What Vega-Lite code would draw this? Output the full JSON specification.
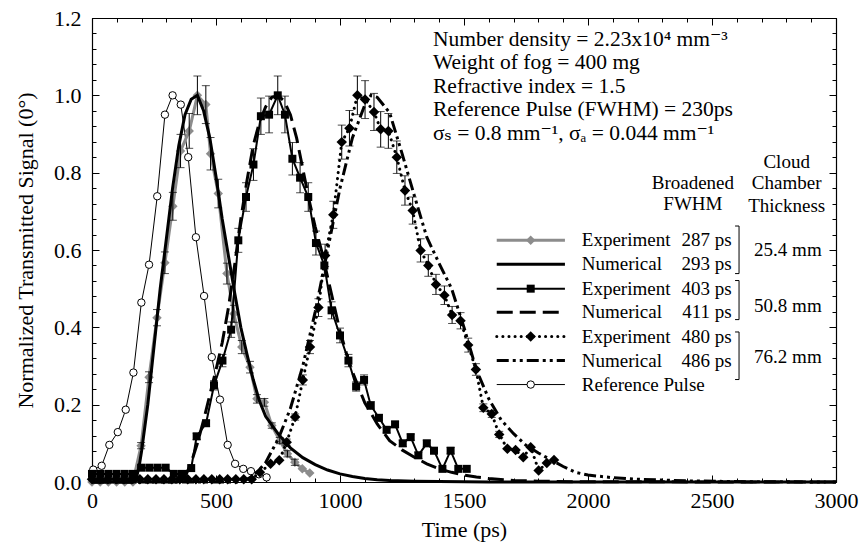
{
"$schema": "https://vega.github.io/schema/vega-lite/v6.json",
"width": 744, "height": 464,
"autosize": {"type": "none"},
"padding": {"left": 92, "top": 18, "right": 25, "bottom": 62},
"config": {
  "font": "Liberation Serif",
  "view": {"stroke": null},
  "axis": {"labelFont": "Liberation Serif", "labelFontSize": 22, "labelColor": "black", "titleFont": "Liberation Serif", "titleFontSize": 22, "titleFontWeight": "normal", "titleColor": "black", "domainColor": "black", "domainWidth": 1.2, "tickColor": "black", "tickWidth": 1, "grid": false},
  "text": {"font": "Liberation Serif", "fontSize": 22, "color": "black"}
},
"datasets": {
"pts": [
{"s":"ref","x":5,"y":0.032},{"s":"ref","x":39,"y":0.042},{"s":"ref","x":70,"y":0.096},{"s":"ref","x":104,"y":0.129},{"s":"ref","x":136,"y":0.187},{"s":"ref","x":167,"y":0.283},{"s":"ref","x":199,"y":0.464},{"s":"ref","x":230,"y":0.562},{"s":"ref","x":263,"y":0.739},{"s":"ref","x":294,"y":0.95},{"s":"ref","x":325,"y":1.0},{"s":"ref","x":358,"y":0.976},{"s":"ref","x":388,"y":0.84},{"s":"ref","x":419,"y":0.633},{"s":"ref","x":452,"y":0.481},{"s":"ref","x":483,"y":0.323},{"s":"ref","x":516,"y":0.213},{"s":"ref","x":547,"y":0.096},{"s":"ref","x":577,"y":0.047},{"s":"ref","x":610,"y":0.034},{"s":"ref","x":641,"y":0.028},{"s":"ref","x":673,"y":0.02},{"s":"ref","x":704,"y":0.012},
{"s":"L_ref","x":1632,"y":0.252},{"s":"L_ref","x":1907,"y":0.252},{"s":"M_ref","x":1769,"y":0.252},

{"s":"exp1","x":0,"y":0},{"s":"exp1","x":33,"y":0},{"s":"exp1","x":66,"y":0},{"s":"exp1","x":99,"y":0},{"s":"exp1","x":132,"y":0},{"s":"exp1","x":165,"y":0},
{"s":"exp1","x":198,"y":0.094,"lo":0.086,"hi":0.102},{"s":"exp1","x":230,"y":0.271,"lo":0.257,"hi":0.285},{"s":"exp1","x":262,"y":0.425,"lo":0.404,"hi":0.446},{"s":"exp1","x":294,"y":0.567,"lo":0.539,"hi":0.595},{"s":"exp1","x":326,"y":0.713,"lo":0.677,"hi":0.749},{"s":"exp1","x":357,"y":0.856,"lo":0.813,"hi":0.899},{"s":"exp1","x":392,"y":0.908,"lo":0.863,"hi":0.953},{"s":"exp1","x":425,"y":1.0,"lo":0.95,"hi":1.05},{"s":"exp1","x":459,"y":0.976,"lo":0.927,"hi":1.025},{"s":"exp1","x":478,"y":0.849,"lo":0.807,"hi":0.891},{"s":"exp1","x":509,"y":0.746,"lo":0.709,"hi":0.783},{"s":"exp1","x":544,"y":0.539,"lo":0.512,"hi":0.566},{"s":"exp1","x":572,"y":0.435,"lo":0.413,"hi":0.457},{"s":"exp1","x":604,"y":0.349,"lo":0.332,"hi":0.366},{"s":"exp1","x":637,"y":0.297,"lo":0.282,"hi":0.312},{"s":"exp1","x":665,"y":0.215,"lo":0.204,"hi":0.226},{"s":"exp1","x":695,"y":0.206,"lo":0.196,"hi":0.216},{"s":"exp1","x":725,"y":0.146,"lo":0.139,"hi":0.153},{"s":"exp1","x":757,"y":0.107,"lo":0.099,"hi":0.115},{"s":"exp1","x":788,"y":0.073,"lo":0.065,"hi":0.081},{"s":"exp1","x":818,"y":0.051,"lo":0.043,"hi":0.059},{"s":"exp1","x":848,"y":0.034},{"s":"exp1","x":878,"y":0.023},
{"s":"L_exp1","x":1632,"y":0.625},{"s":"L_exp1","x":1907,"y":0.625},{"s":"M_exp1","x":1769,"y":0.625},

{"s":"num1","x":0,"y":0},{"s":"num1","x":175,"y":0},{"s":"num1","x":190,"y":0.04},{"s":"num1","x":200,"y":0.08},{"s":"num1","x":225,"y":0.2},{"s":"num1","x":250,"y":0.35},{"s":"num1","x":275,"y":0.5},{"s":"num1","x":300,"y":0.63},{"s":"num1","x":325,"y":0.76},{"s":"num1","x":350,"y":0.87},{"s":"num1","x":375,"y":0.95},{"s":"num1","x":400,"y":0.99},{"s":"num1","x":425,"y":1.0},{"s":"num1","x":450,"y":0.96},{"s":"num1","x":475,"y":0.89},{"s":"num1","x":500,"y":0.79},{"s":"num1","x":525,"y":0.68},{"s":"num1","x":550,"y":0.585},{"s":"num1","x":575,"y":0.49},{"s":"num1","x":600,"y":0.4},{"s":"num1","x":625,"y":0.33},{"s":"num1","x":650,"y":0.265},{"s":"num1","x":675,"y":0.21},{"s":"num1","x":700,"y":0.17},{"s":"num1","x":750,"y":0.125},{"s":"num1","x":800,"y":0.088},{"s":"num1","x":850,"y":0.063},{"s":"num1","x":900,"y":0.045},{"s":"num1","x":950,"y":0.031},{"s":"num1","x":1000,"y":0.021},{"s":"num1","x":1050,"y":0.014},{"s":"num1","x":1100,"y":0.009},{"s":"num1","x":1150,"y":0.006},{"s":"num1","x":1200,"y":0.004},{"s":"num1","x":1300,"y":0.002},{"s":"num1","x":1400,"y":0.001},{"s":"num1","x":1600,"y":0},{"s":"num1","x":3000,"y":0},
{"s":"L_num1","x":1632,"y":0.563},{"s":"L_num1","x":1907,"y":0.563},

{"s":"exp2","x":0,"y":0.021},{"s":"exp2","x":33,"y":0.021},{"s":"exp2","x":66,"y":0.021},{"s":"exp2","x":99,"y":0.021},{"s":"exp2","x":132,"y":0.021},{"s":"exp2","x":165,"y":0.021},{"s":"exp2","x":198,"y":0.037},{"s":"exp2","x":231,"y":0.037},{"s":"exp2","x":264,"y":0.037},{"s":"exp2","x":297,"y":0.037},{"s":"exp2","x":330,"y":0.021},{"s":"exp2","x":363,"y":0.021},{"s":"exp2","x":400,"y":0.036},
{"s":"exp2","x":422,"y":0.118,"lo":0.11,"hi":0.126},{"s":"exp2","x":460,"y":0.152,"lo":0.144,"hi":0.16},{"s":"exp2","x":492,"y":0.25,"lo":0.238,"hi":0.262},{"s":"exp2","x":526,"y":0.314,"lo":0.298,"hi":0.33},{"s":"exp2","x":561,"y":0.394,"lo":0.374,"hi":0.414},{"s":"exp2","x":590,"y":0.625,"lo":0.594,"hi":0.656},{"s":"exp2","x":621,"y":0.737,"lo":0.7,"hi":0.774},{"s":"exp2","x":651,"y":0.821,"lo":0.78,"hi":0.862},{"s":"exp2","x":681,"y":0.946,"lo":0.899,"hi":0.993},{"s":"exp2","x":714,"y":0.95,"lo":0.903,"hi":0.998},{"s":"exp2","x":749,"y":1.0,"lo":0.95,"hi":1.05},{"s":"exp2","x":778,"y":0.95,"lo":0.903,"hi":0.998},{"s":"exp2","x":808,"y":0.836,"lo":0.794,"hi":0.878},{"s":"exp2","x":839,"y":0.787,"lo":0.748,"hi":0.826},{"s":"exp2","x":872,"y":0.737,"lo":0.7,"hi":0.774},{"s":"exp2","x":903,"y":0.618,"lo":0.587,"hi":0.649},{"s":"exp2","x":937,"y":0.56,"lo":0.532,"hi":0.588},{"s":"exp2","x":966,"y":0.444,"lo":0.422,"hi":0.466},{"s":"exp2","x":1000,"y":0.379,"lo":0.36,"hi":0.398},{"s":"exp2","x":1034,"y":0.314,"lo":0.298,"hi":0.33},{"s":"exp2","x":1065,"y":0.247,"lo":0.235,"hi":0.259},{"s":"exp2","x":1097,"y":0.264,"lo":0.251,"hi":0.277},{"s":"exp2","x":1124,"y":0.198,"lo":0.188,"hi":0.208},{"s":"exp2","x":1157,"y":0.166,"lo":0.158,"hi":0.174},{"s":"exp2","x":1188,"y":0.135,"lo":0.127,"hi":0.143},{"s":"exp2","x":1222,"y":0.149,"lo":0.141,"hi":0.157},{"s":"exp2","x":1253,"y":0.1,"lo":0.092,"hi":0.108},{"s":"exp2","x":1285,"y":0.116,"lo":0.108,"hi":0.124},{"s":"exp2","x":1316,"y":0.069,"lo":0.061,"hi":0.077},{"s":"exp2","x":1350,"y":0.1,"lo":0.092,"hi":0.108},{"s":"exp2","x":1379,"y":0.081,"lo":0.073,"hi":0.089},{"s":"exp2","x":1413,"y":0.034},{"s":"exp2","x":1446,"y":0.081,"lo":0.073,"hi":0.089},{"s":"exp2","x":1477,"y":0.034},{"s":"exp2","x":1511,"y":0.034},
{"s":"L_exp2","x":1632,"y":0.5},{"s":"L_exp2","x":1907,"y":0.5},{"s":"M_exp2","x":1769,"y":0.5},

{"s":"num2","x":0,"y":0},{"s":"num2","x":350,"y":0},{"s":"num2","x":380,"y":0.02},{"s":"num2","x":400,"y":0.05},{"s":"num2","x":425,"y":0.1},{"s":"num2","x":450,"y":0.16},{"s":"num2","x":475,"y":0.225},{"s":"num2","x":500,"y":0.29},{"s":"num2","x":525,"y":0.36},{"s":"num2","x":550,"y":0.45},{"s":"num2","x":575,"y":0.56},{"s":"num2","x":600,"y":0.68},{"s":"num2","x":625,"y":0.78},{"s":"num2","x":650,"y":0.87},{"s":"num2","x":675,"y":0.93},{"s":"num2","x":700,"y":0.97},{"s":"num2","x":725,"y":0.995},{"s":"num2","x":750,"y":1.0},{"s":"num2","x":775,"y":0.985},{"s":"num2","x":800,"y":0.95},{"s":"num2","x":825,"y":0.89},{"s":"num2","x":850,"y":0.81},{"s":"num2","x":875,"y":0.73},{"s":"num2","x":900,"y":0.66},{"s":"num2","x":925,"y":0.6},{"s":"num2","x":950,"y":0.53},{"s":"num2","x":975,"y":0.46},{"s":"num2","x":1000,"y":0.39},{"s":"num2","x":1025,"y":0.335},{"s":"num2","x":1050,"y":0.285},{"s":"num2","x":1100,"y":0.205},{"s":"num2","x":1150,"y":0.15},{"s":"num2","x":1200,"y":0.107},{"s":"num2","x":1250,"y":0.083},{"s":"num2","x":1300,"y":0.064},{"s":"num2","x":1350,"y":0.047},{"s":"num2","x":1400,"y":0.034},{"s":"num2","x":1450,"y":0.025},{"s":"num2","x":1500,"y":0.018},{"s":"num2","x":1550,"y":0.013},{"s":"num2","x":1600,"y":0.009},{"s":"num2","x":1700,"y":0.004},{"s":"num2","x":1800,"y":0.002},{"s":"num2","x":2000,"y":0.0005},{"s":"num2","x":3000,"y":0},
{"s":"L_num2","x":1632,"y":0.439},{"s":"L_num2","x":1907,"y":0.439},

{"s":"exp3","x":0,"y":0.007},{"s":"exp3","x":32,"y":0.007},{"s":"exp3","x":64,"y":0.007},{"s":"exp3","x":97,"y":0.007},{"s":"exp3","x":129,"y":0.007},{"s":"exp3","x":161,"y":0.007},{"s":"exp3","x":193,"y":0.007},{"s":"exp3","x":225,"y":0.007},{"s":"exp3","x":258,"y":0.007},{"s":"exp3","x":290,"y":0.007},{"s":"exp3","x":322,"y":0.007},{"s":"exp3","x":354,"y":0.007},{"s":"exp3","x":386,"y":0.007},{"s":"exp3","x":419,"y":0.007},{"s":"exp3","x":451,"y":0.007},{"s":"exp3","x":483,"y":0.007},{"s":"exp3","x":515,"y":0.007},{"s":"exp3","x":547,"y":0.007},{"s":"exp3","x":580,"y":0.007},{"s":"exp3","x":612,"y":0.007},{"s":"exp3","x":644,"y":0.007},
{"s":"exp3","x":677,"y":0.025},{"s":"exp3","x":720,"y":0.047},{"s":"exp3","x":755,"y":0.056},{"s":"exp3","x":785,"y":0.103,"lo":0.095,"hi":0.111},{"s":"exp3","x":819,"y":0.168,"lo":0.16,"hi":0.176},{"s":"exp3","x":850,"y":0.264,"lo":0.251,"hi":0.277},{"s":"exp3","x":879,"y":0.349,"lo":0.332,"hi":0.366},{"s":"exp3","x":913,"y":0.451,"lo":0.428,"hi":0.474},{"s":"exp3","x":940,"y":0.586,"lo":0.557,"hi":0.615},{"s":"exp3","x":973,"y":0.691,"lo":0.656,"hi":0.726},{"s":"exp3","x":1007,"y":0.879,"lo":0.835,"hi":0.923},{"s":"exp3","x":1038,"y":0.915,"lo":0.869,"hi":0.961},{"s":"exp3","x":1070,"y":1.0,"lo":0.95,"hi":1.05},{"s":"exp3","x":1101,"y":0.989,"lo":0.94,"hi":1.038},{"s":"exp3","x":1137,"y":0.957,"lo":0.909,"hi":1.005},{"s":"exp3","x":1164,"y":0.912,"lo":0.866,"hi":0.958},{"s":"exp3","x":1195,"y":0.908,"lo":0.863,"hi":0.953},{"s":"exp3","x":1229,"y":0.84,"lo":0.798,"hi":0.882},{"s":"exp3","x":1262,"y":0.754,"lo":0.716,"hi":0.792},{"s":"exp3","x":1293,"y":0.702,"lo":0.667,"hi":0.737},{"s":"exp3","x":1325,"y":0.599,"lo":0.569,"hi":0.629},{"s":"exp3","x":1356,"y":0.56,"lo":0.532,"hi":0.588},{"s":"exp3","x":1387,"y":0.511,"lo":0.485,"hi":0.537},{"s":"exp3","x":1421,"y":0.483,"lo":0.459,"hi":0.507},{"s":"exp3","x":1452,"y":0.432,"lo":0.41,"hi":0.454},{"s":"exp3","x":1486,"y":0.417,"lo":0.396,"hi":0.438},{"s":"exp3","x":1517,"y":0.354,"lo":0.336,"hi":0.372},{"s":"exp3","x":1548,"y":0.291,"lo":0.276,"hi":0.306},{"s":"exp3","x":1578,"y":0.192,"lo":0.182,"hi":0.202},{"s":"exp3","x":1612,"y":0.176,"lo":0.167,"hi":0.185},{"s":"exp3","x":1642,"y":0.123,"lo":0.115,"hi":0.131},{"s":"exp3","x":1675,"y":0.086},{"s":"exp3","x":1708,"y":0.083},{"s":"exp3","x":1739,"y":0.064},{"s":"exp3","x":1769,"y":0.09},{"s":"exp3","x":1801,"y":0.03},{"s":"exp3","x":1834,"y":0.049},{"s":"exp3","x":1863,"y":0.057},
{"s":"L_exp3","x":1632,"y":0.376},{"s":"L_exp3","x":1907,"y":0.376},{"s":"M_exp3","x":1769,"y":0.376},

{"s":"num3","x":0,"y":0},{"s":"num3","x":600,"y":0},{"s":"num3","x":650,"y":0.015},{"s":"num3","x":700,"y":0.05},{"s":"num3","x":750,"y":0.11},{"s":"num3","x":800,"y":0.19},{"s":"num3","x":850,"y":0.3},{"s":"num3","x":900,"y":0.44},{"s":"num3","x":950,"y":0.6},{"s":"num3","x":1000,"y":0.76},{"s":"num3","x":1050,"y":0.89},{"s":"num3","x":1100,"y":0.975},{"s":"num3","x":1125,"y":1.0},{"s":"num3","x":1150,"y":0.995},{"s":"num3","x":1200,"y":0.955},{"s":"num3","x":1250,"y":0.85},{"s":"num3","x":1300,"y":0.74},{"s":"num3","x":1350,"y":0.633},{"s":"num3","x":1400,"y":0.565},{"s":"num3","x":1450,"y":0.5},{"s":"num3","x":1500,"y":0.4},{"s":"num3","x":1550,"y":0.29},{"s":"num3","x":1600,"y":0.215},{"s":"num3","x":1650,"y":0.16},{"s":"num3","x":1700,"y":0.125},{"s":"num3","x":1750,"y":0.095},{"s":"num3","x":1800,"y":0.075},{"s":"num3","x":1900,"y":0.04},{"s":"num3","x":1950,"y":0.025},{"s":"num3","x":2000,"y":0.018},{"s":"num3","x":2100,"y":0.011},{"s":"num3","x":2200,"y":0.007},{"s":"num3","x":2400,"y":0.003},{"s":"num3","x":2600,"y":0.001},{"s":"num3","x":3000,"y":0},
{"s":"L_num3","x":1632,"y":0.314},{"s":"L_num3","x":1907,"y":0.314}
],
"txt": [
{"k":"A","x":1375,"y":1.144,"t":"Number density = 2.23x10⁴ mm⁻³"},
{"k":"A","x":1375,"y":1.083,"t":"Weight of fog = 400 mg"},
{"k":"A","x":1375,"y":1.022,"t":"Refractive index = 1.5"},
{"k":"A","x":1375,"y":0.961,"t":"Reference Pulse (FWHM) = 230ps"},
{"k":"A","x":1375,"y":0.9,"t":"σₛ = 0.8 mm⁻¹, σₐ = 0.044 mm⁻¹"},
{"k":"C","x":2423,"y":0.773,"t":"Broadened"},
{"k":"C","x":2423,"y":0.718,"t":"FWHM"},
{"k":"C","x":2801,"y":0.827,"t":"Cloud"},
{"k":"C","x":2801,"y":0.772,"t":"Chamber"},
{"k":"C","x":2801,"y":0.715,"t":"Thickness"},
{"k":"L","x":1975,"y":0.625,"t":"Experiment"},
{"k":"L","x":1975,"y":0.563,"t":"Numerical"},
{"k":"L","x":1975,"y":0.5,"t":"Experiment"},
{"k":"L","x":1975,"y":0.439,"t":"Numerical"},
{"k":"L","x":1975,"y":0.376,"t":"Experiment"},
{"k":"L","x":1975,"y":0.314,"t":"Numerical"},
{"k":"L","x":1975,"y":0.252,"t":"Reference Pulse"},
{"k":"R","x":2579,"y":0.625,"t":"287 ps"},
{"k":"R","x":2579,"y":0.563,"t":"293 ps"},
{"k":"R","x":2579,"y":0.5,"t":"403 ps"},
{"k":"R","x":2579,"y":0.439,"t":"411 ps"},
{"k":"R","x":2579,"y":0.376,"t":"480 ps"},
{"k":"R","x":2579,"y":0.314,"t":"486 ps"},
{"k":"C","x":2806,"y":0.6,"t":"25.4 mm"},
{"k":"C","x":2806,"y":0.455,"t":"50.8 mm"},
{"k":"C","x":2806,"y":0.322,"t":"76.2 mm"}
],
"br": [
{"x1":2609,"y1":0.662,"x2":2609,"y2":0.539},{"x1":2593,"y1":0.662,"x2":2609,"y2":0.662},{"x1":2593,"y1":0.539,"x2":2609,"y2":0.539},
{"x1":2609,"y1":0.521,"x2":2609,"y2":0.42},{"x1":2593,"y1":0.521,"x2":2609,"y2":0.521},{"x1":2593,"y1":0.42,"x2":2609,"y2":0.42},
{"x1":2609,"y1":0.388,"x2":2609,"y2":0.265},{"x1":2593,"y1":0.388,"x2":2609,"y2":0.388},{"x1":2593,"y1":0.265,"x2":2609,"y2":0.265}
]
},
"resolve": {"axis": {"x": "independent", "y": "independent"}},
"layer": [
{"data": {"name": "pts"}, "transform": [{"filter": "datum.s == 'ref' || datum.s == 'L_ref'"}],
 "mark": {"type": "line", "color": "black", "strokeWidth": 1},
 "encoding": {
  "x": {"field": "x", "type": "quantitative", "scale": {"domain": [0, 3000], "nice": false}, "axis": {"orient": "bottom", "values": [0,500,1000,1500,2000,2500,3000], "format": "d", "ticks": false, "domain": true, "labelPadding": 8, "labelFlush": false, "labelOverlap": false, "title": "Time (ps)", "titlePadding": 8}},
  "y": {"field": "y", "type": "quantitative", "scale": {"domain": [0, 1.2], "nice": false}, "axis": {"orient": "left", "values": [0,0.2,0.4,0.6,0.8,1.0,1.2], "format": ".1f", "ticks": false, "domain": true, "labelPadding": 11, "labelFlush": false, "labelOverlap": false, "title": "Normalized Transmitted Signal (0°)", "titlePadding": 16}},
  "detail": {"field": "s"}}},
{"data": {"name": "pts"}, "transform": [{"filter": "datum.s == 'ref' || datum.s == 'M_ref'"}],
 "mark": {"type": "point", "shape": "circle", "filled": true, "fill": "white", "stroke": "black", "strokeWidth": 1, "size": 55, "opacity": 1},
 "encoding": {
  "x": {"field": "x", "type": "quantitative", "scale": {"domain": [0, 3000], "nice": false}, "axis": {"orient": "bottom", "values": [0,500,1000,1500,2000,2500,3000], "tickSize": -7, "labels": false, "domain": false, "title": null}},
  "y": {"field": "y", "type": "quantitative", "scale": {"domain": [0, 1.2], "nice": false}, "axis": {"orient": "left", "values": [0,0.2,0.4,0.6,0.8,1.0,1.2], "tickSize": -7, "labels": false, "domain": false, "title": null}}}},
{"data": {"name": "pts"}, "transform": [{"filter": "datum.s == 'exp1' || datum.s == 'L_exp1'"}],
 "mark": {"type": "line", "color": "#8c8c8c", "strokeWidth": 3},
 "encoding": {
  "x": {"field": "x", "type": "quantitative", "scale": {"domain": [0, 3000], "nice": false}, "axis": {"orient": "bottom", "values": [0,100,200,300,400,500,600,700,800,900,1000,1100,1200,1300,1400,1500,1600,1700,1800,1900,2000,2100,2200,2300,2400,2500,2600,2700,2800,2900,3000], "tickSize": -4, "labels": false, "domain": false, "title": null}},
  "y": {"field": "y", "type": "quantitative", "scale": {"domain": [0, 1.2], "nice": false}, "axis": {"orient": "left", "values": [0,0.04,0.08,0.12,0.16,0.2,0.24,0.28,0.32,0.36,0.4,0.44,0.48,0.52,0.56,0.6,0.64,0.68,0.72,0.76,0.8,0.84,0.88,0.92,0.96,1.0,1.04,1.08,1.12,1.16,1.2], "tickSize": -4, "labels": false, "domain": false, "title": null}},
  "detail": {"field": "s"}}},
{"data": {"name": "pts"}, "transform": [{"filter": "datum.s == 'exp1' || datum.s == 'M_exp1'"}],
 "mark": {"type": "point", "shape": "diamond", "filled": true, "color": "#8c8c8c", "size": 90, "opacity": 1},
 "encoding": {
  "x": {"field": "x", "type": "quantitative", "scale": {"domain": [0, 3000], "nice": false}, "axis": {"orient": "top", "values": [0,500,1000,1500,2000,2500,3000], "tickSize": -7, "labels": false, "domain": true, "title": null}},
  "y": {"field": "y", "type": "quantitative", "scale": {"domain": [0, 1.2], "nice": false}, "axis": {"orient": "right", "values": [0,0.2,0.4,0.6,0.8,1.0,1.2], "tickSize": -7, "labels": false, "domain": true, "title": null}}}},
{"data": {"name": "pts"}, "transform": [{"filter": "datum.s == 'num1' || datum.s == 'L_num1'"}],
 "mark": {"type": "line", "color": "black", "strokeWidth": 3},
 "encoding": {
  "x": {"field": "x", "type": "quantitative", "scale": {"domain": [0, 3000], "nice": false}, "axis": {"orient": "top", "values": [0,100,200,300,400,500,600,700,800,900,1000,1100,1200,1300,1400,1500,1600,1700,1800,1900,2000,2100,2200,2300,2400,2500,2600,2700,2800,2900,3000], "tickSize": -4, "labels": false, "domain": false, "title": null}},
  "y": {"field": "y", "type": "quantitative", "scale": {"domain": [0, 1.2], "nice": false}, "axis": {"orient": "right", "values": [0,0.04,0.08,0.12,0.16,0.2,0.24,0.28,0.32,0.36,0.4,0.44,0.48,0.52,0.56,0.6,0.64,0.68,0.72,0.76,0.8,0.84,0.88,0.92,0.96,1.0,1.04,1.08,1.12,1.16,1.2], "tickSize": -4, "labels": false, "domain": false, "title": null}},
  "detail": {"field": "s"}}},
{"data": {"name": "pts"}, "transform": [{"filter": "(datum.s == 'exp1' || datum.s == 'exp2' || datum.s == 'exp3') && isValid(datum.lo)"}],
 "mark": {"type": "errorbar", "color": "black", "ticks": {"size": 8, "color": "black"}, "rule": {"color": "black", "strokeWidth": 1}},
 "encoding": {
  "x": {"field": "x", "type": "quantitative", "scale": {"domain": [0, 3000], "nice": false}, "axis": null},
  "y": {"field": "lo", "type": "quantitative", "scale": {"domain": [0, 1.2], "nice": false}, "axis": null},
  "y2": {"field": "hi"}}},
{"data": {"name": "pts"}, "transform": [{"filter": "datum.s == 'exp2' || datum.s == 'L_exp2'"}],
 "mark": {"type": "line", "color": "black", "strokeWidth": 2},
 "encoding": {
  "x": {"field": "x", "type": "quantitative", "scale": {"domain": [0, 3000], "nice": false}, "axis": null},
  "y": {"field": "y", "type": "quantitative", "scale": {"domain": [0, 1.2], "nice": false}, "axis": null},
  "detail": {"field": "s"}}},
{"data": {"name": "pts"}, "transform": [{"filter": "datum.s == 'exp2' || datum.s == 'M_exp2'"}],
 "mark": {"type": "point", "shape": "square", "filled": true, "color": "black", "size": 64, "opacity": 1},
 "encoding": {
  "x": {"field": "x", "type": "quantitative", "scale": {"domain": [0, 3000], "nice": false}, "axis": null},
  "y": {"field": "y", "type": "quantitative", "scale": {"domain": [0, 1.2], "nice": false}, "axis": null}}},
{"data": {"name": "pts"}, "transform": [{"filter": "datum.s == 'num2' || datum.s == 'L_num2'"}],
 "mark": {"type": "line", "color": "black", "strokeWidth": 3, "strokeDash": [16, 7]},
 "encoding": {
  "x": {"field": "x", "type": "quantitative", "scale": {"domain": [0, 3000], "nice": false}, "axis": null},
  "y": {"field": "y", "type": "quantitative", "scale": {"domain": [0, 1.2], "nice": false}, "axis": null},
  "detail": {"field": "s"}}},
{"data": {"name": "pts"}, "transform": [{"filter": "datum.s == 'exp3' || datum.s == 'L_exp3'"}],
 "mark": {"type": "line", "color": "black", "strokeWidth": 3, "strokeDash": [0.1, 6], "strokeCap": "round"},
 "encoding": {
  "x": {"field": "x", "type": "quantitative", "scale": {"domain": [0, 3000], "nice": false}, "axis": null},
  "y": {"field": "y", "type": "quantitative", "scale": {"domain": [0, 1.2], "nice": false}, "axis": null},
  "detail": {"field": "s"}}},
{"data": {"name": "pts"}, "transform": [{"filter": "datum.s == 'exp3' || datum.s == 'M_exp3'"}],
 "mark": {"type": "point", "shape": "diamond", "filled": true, "color": "black", "size": 110, "opacity": 1},
 "encoding": {
  "x": {"field": "x", "type": "quantitative", "scale": {"domain": [0, 3000], "nice": false}, "axis": null},
  "y": {"field": "y", "type": "quantitative", "scale": {"domain": [0, 1.2], "nice": false}, "axis": null}}},
{"data": {"name": "pts"}, "transform": [{"filter": "datum.s == 'num3' || datum.s == 'L_num3'"}],
 "mark": {"type": "line", "color": "black", "strokeWidth": 3, "strokeDash": [12, 4, 3, 4, 3, 4]},
 "encoding": {
  "x": {"field": "x", "type": "quantitative", "scale": {"domain": [0, 3000], "nice": false}, "axis": null},
  "y": {"field": "y", "type": "quantitative", "scale": {"domain": [0, 1.2], "nice": false}, "axis": null},
  "detail": {"field": "s"}}},
{"data": {"name": "br"},
 "mark": {"type": "rule", "color": "black", "strokeWidth": 1},
 "encoding": {
  "x": {"field": "x1", "type": "quantitative", "scale": {"domain": [0, 3000], "nice": false}, "axis": null},
  "x2": {"field": "x2"},
  "y": {"field": "y1", "type": "quantitative", "scale": {"domain": [0, 1.2], "nice": false}, "axis": null},
  "y2": {"field": "y2"}}},
{"data": {"name": "txt"}, "transform": [{"filter": "datum.k == 'A'"}],
 "mark": {"type": "text", "align": "left", "baseline": "middle", "fontSize": 21.5, "font": "Liberation Serif, DejaVu Serif"},
 "encoding": {
  "x": {"field": "x", "type": "quantitative", "scale": {"domain": [0, 3000], "nice": false}, "axis": null},
  "y": {"field": "y", "type": "quantitative", "scale": {"domain": [0, 1.2], "nice": false}, "axis": null},
  "text": {"field": "t"}}},
{"data": {"name": "txt"}, "transform": [{"filter": "datum.k == 'L'"}],
 "mark": {"type": "text", "align": "left", "baseline": "middle", "fontSize": 19, "font": "Liberation Serif"},
 "encoding": {
  "x": {"field": "x", "type": "quantitative", "scale": {"domain": [0, 3000], "nice": false}, "axis": null},
  "y": {"field": "y", "type": "quantitative", "scale": {"domain": [0, 1.2], "nice": false}, "axis": null},
  "text": {"field": "t"}}},
{"data": {"name": "txt"}, "transform": [{"filter": "datum.k == 'R'"}],
 "mark": {"type": "text", "align": "right", "baseline": "middle", "fontSize": 19, "font": "Liberation Serif"},
 "encoding": {
  "x": {"field": "x", "type": "quantitative", "scale": {"domain": [0, 3000], "nice": false}, "axis": null},
  "y": {"field": "y", "type": "quantitative", "scale": {"domain": [0, 1.2], "nice": false}, "axis": null},
  "text": {"field": "t"}}},
{"data": {"name": "txt"}, "transform": [{"filter": "datum.k == 'C'"}],
 "mark": {"type": "text", "align": "center", "baseline": "middle", "fontSize": 19, "font": "Liberation Serif"},
 "encoding": {
  "x": {"field": "x", "type": "quantitative", "scale": {"domain": [0, 3000], "nice": false}, "axis": null},
  "y": {"field": "y", "type": "quantitative", "scale": {"domain": [0, 1.2], "nice": false}, "axis": null},
  "text": {"field": "t"}}}
]
}
